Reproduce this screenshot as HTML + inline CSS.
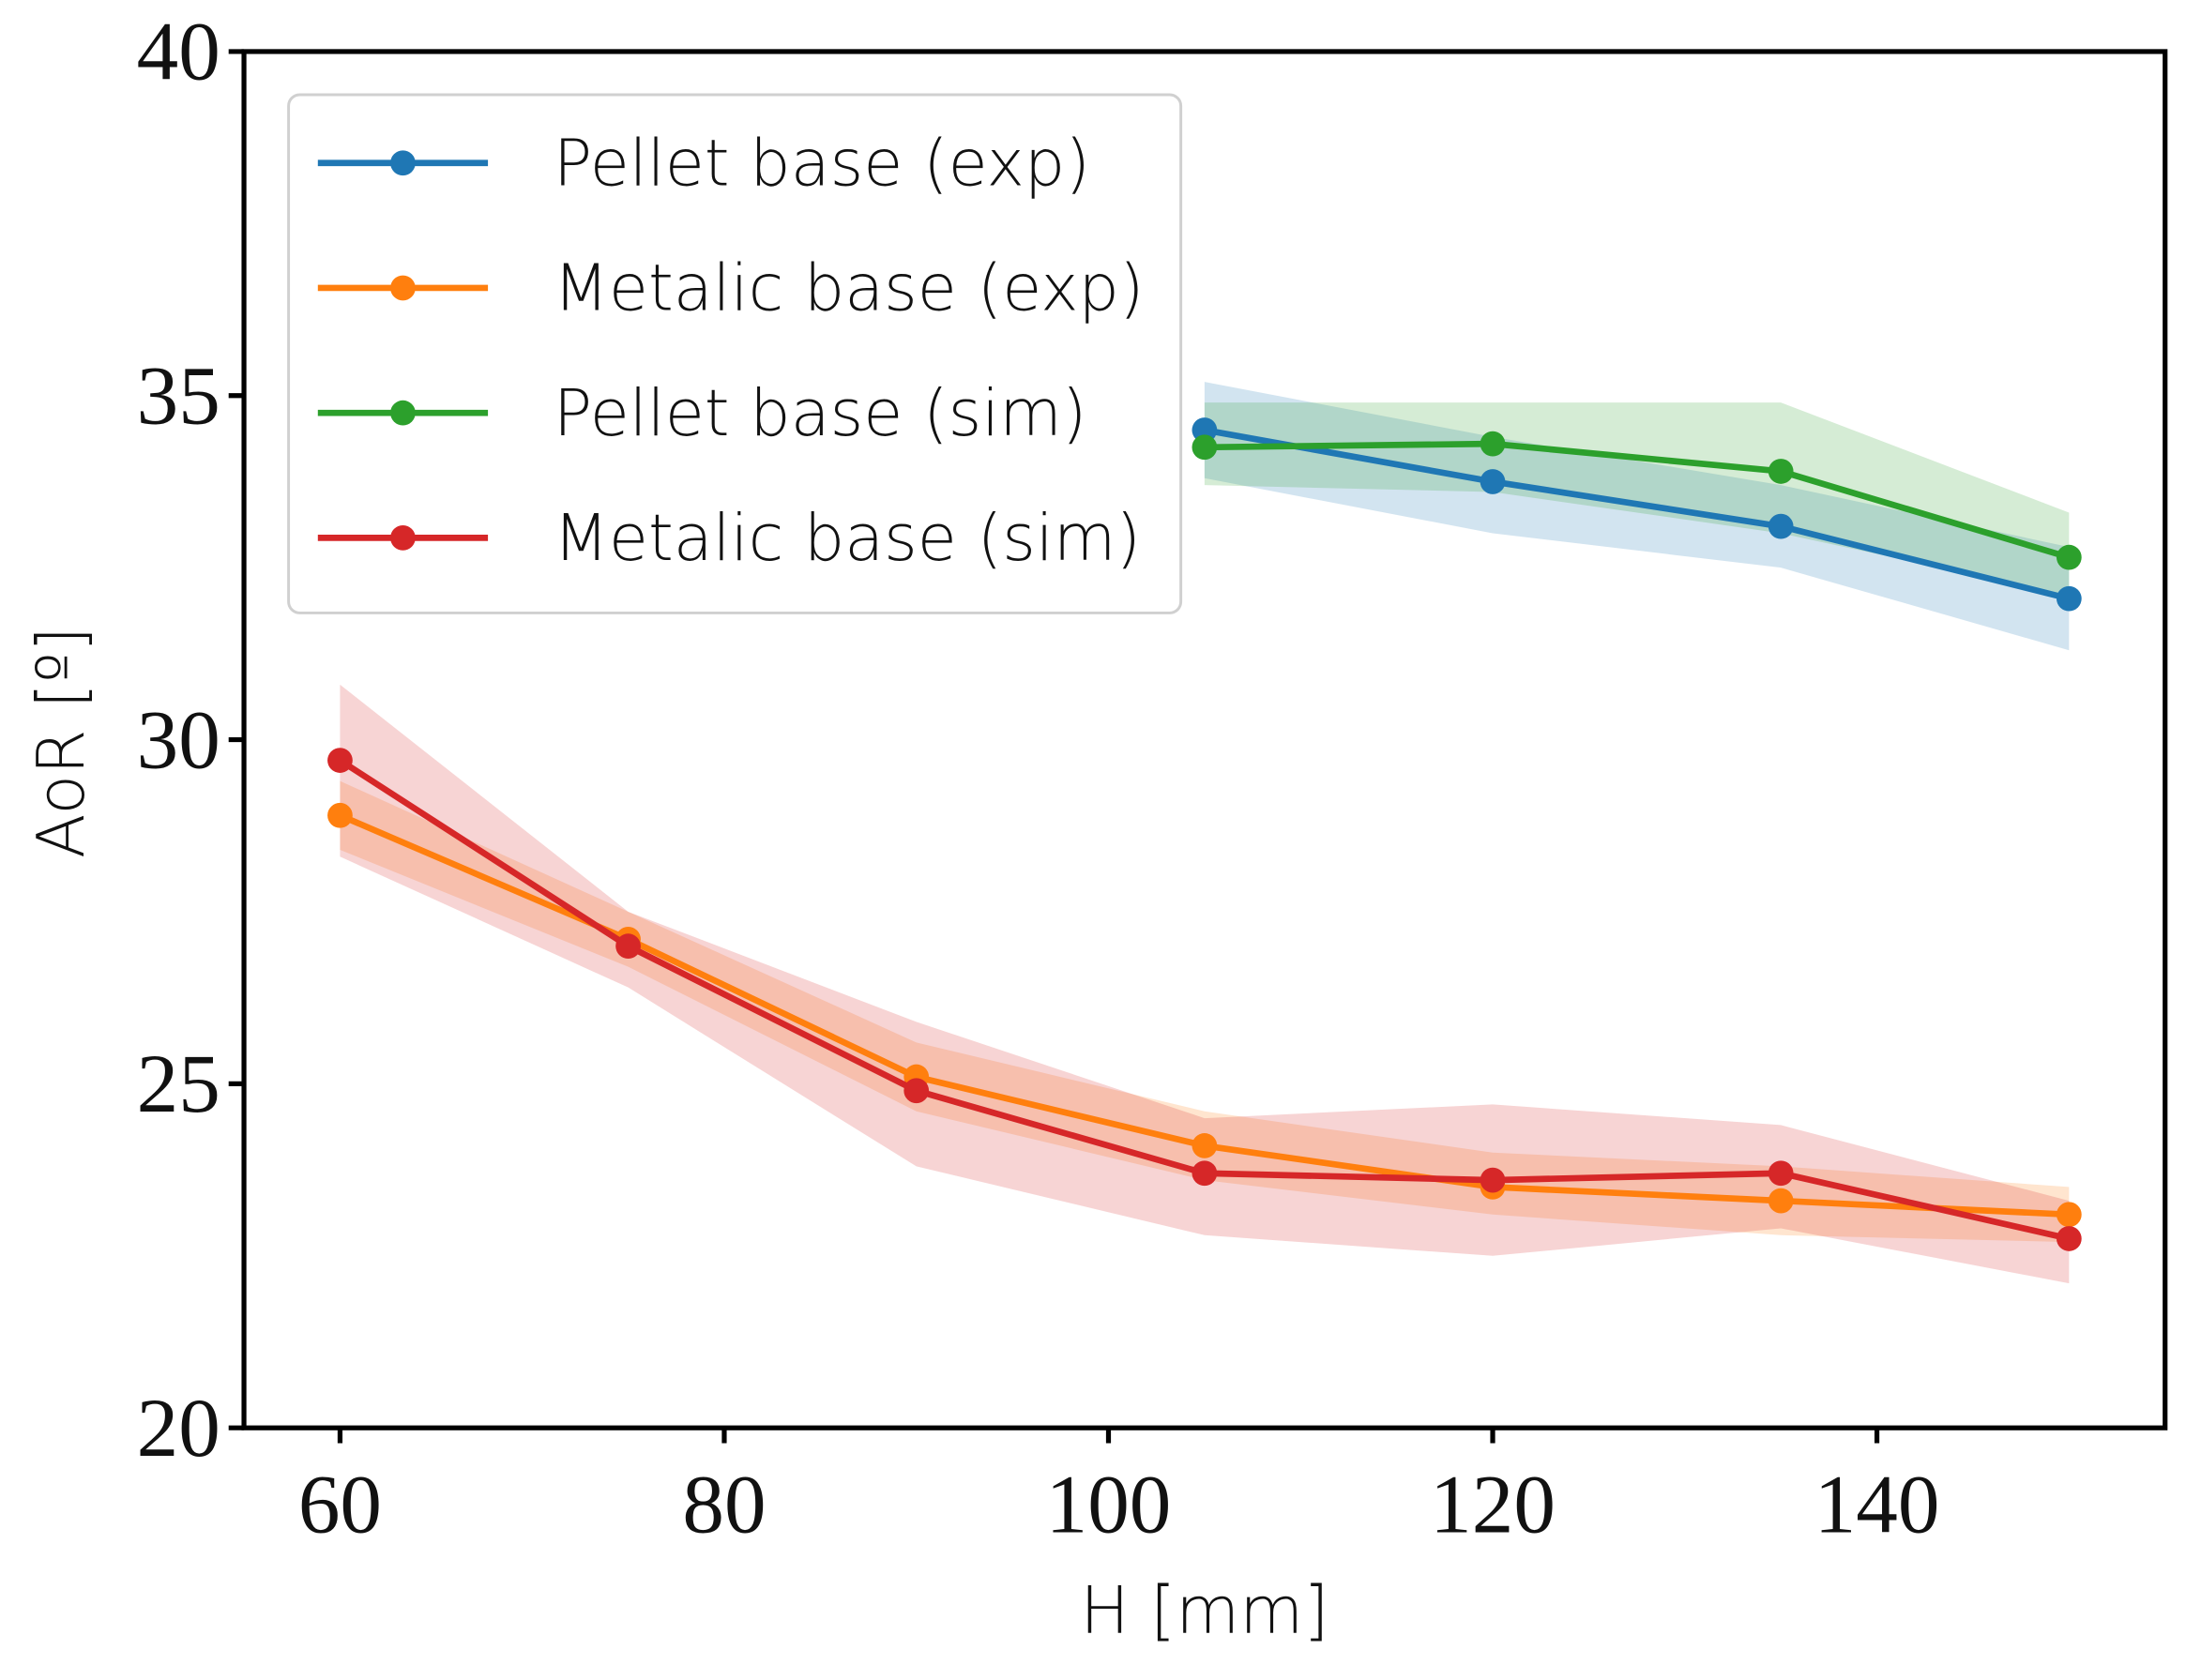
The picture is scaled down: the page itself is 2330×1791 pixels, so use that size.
<!DOCTYPE html>
<html><head><meta charset="utf-8"><style>
html,body{margin:0;padding:0;background:#fff;}
svg{display:block;}
.tick{font-family:"Liberation Serif",serif;font-size:60px;fill:#111;}
.lab{font-family:"DejaVu Sans","Liberation Sans",sans-serif;font-size:47px;fill:#111;font-weight:300;}
.leg{font-family:"DejaVu Sans","Liberation Sans",sans-serif;font-size:46px;fill:#111;font-weight:300;}
</style></head><body>
<svg id="chart" width="2330" height="1791" viewBox="0 0 1568 1206" preserveAspectRatio="none" xmlns="http://www.w3.org/2000/svg">
<rect width="1568" height="1206" fill="#fff"/>
<g id="bands"></g><g id="lines"></g>
<rect x="175" y="37" width="1378" height="988" fill="none" stroke="#000" stroke-width="3.5"/>
<g id="axes"></g>
<text class="lab" x="864" y="1172" text-anchor="middle">H [mm]</text>
<text class="lab" transform="translate(60,533) rotate(-90)" text-anchor="middle">AoR [º]</text>
<g id="legend">
<rect x="207" y="68" width="640" height="372" rx="8" fill="#fff" fill-opacity="0.85" stroke="#d0d0d0" stroke-width="2"/>
</g>
</svg>
<script>
const xs=[60,75,90,105,120,135,150];
const pelletExp=[null,null,null,34.5,33.75,33.1,32.05];
const pelletExpLo=[null,null,null,33.8,33.0,32.5,31.3];
const pelletExpHi=[null,null,null,35.2,34.4,33.7,32.8];
const pelletSim=[null,null,null,34.25,34.3,33.9,32.65];
const pelletSimLo=[null,null,null,33.7,33.6,33.0,32.1];
const pelletSimHi=[null,null,null,34.9,34.9,34.9,33.3];
const metalExp=[28.9,27.1,25.1,24.1,23.5,23.3,23.1];
const metalExpLo=[28.4,26.7,24.6,23.6,23.1,22.8,22.7];
const metalExpHi=[29.4,27.5,25.6,24.6,24.0,23.8,23.5];
const metalSim=[29.7,27.0,24.9,23.7,23.6,23.7,22.75];
const metalSimLo=[28.3,26.4,23.8,22.8,22.5,22.9,22.1];
const metalSimHi=[30.8,27.5,25.9,24.5,24.7,24.4,23.3];
const xTicks=[60,80,100,120,140];
const yTicks=[20,25,30,35,40];
const names=["Pellet base (exp)","Metalic base (exp)","Pellet base (sim)","Metalic base (sim)"];
const colors=["#1f77b4","#ff7f0e","#2ca02c","#d62728"];
const NS="http://www.w3.org/2000/svg";
const X=v=>175+(v-55)/100*1378;
const Y=v=>1025-(v-20)/20*988;
function mk(t,a,p){const e=document.createElementNS(NS,t);for(const k in a)e.setAttribute(k,a[k]);p.appendChild(e);return e;}
const series=[[pelletExp,pelletExpLo,pelletExpHi],[metalExp,metalExpLo,metalExpHi],[pelletSim,pelletSimLo,pelletSimHi],[metalSim,metalSimLo,metalSimHi]];
const bands=document.getElementById('bands'),lines=document.getElementById('lines');
series.forEach((s,i)=>{
 const idx=xs.map((_,j)=>j).filter(j=>s[0][j]!=null);
 const pts=idx.map(j=>X(xs[j])+','+Y(s[2][j])).concat(idx.slice().reverse().map(j=>X(xs[j])+','+Y(s[1][j])));
 const b=mk('polygon',{points:pts.join(' '),fill:colors[i],'fill-opacity':0.2},bands);
 
 
});
series.forEach((s,i)=>{
 const idx=xs.map((_,j)=>j).filter(j=>s[0][j]!=null);
 const l=mk('polyline',{points:idx.map(j=>X(xs[j])+','+Y(s[0][j])).join(' '),fill:'none',stroke:colors[i],'stroke-width':4.5},lines);
 
 
 idx.forEach(j=>{const c=mk('circle',{cx:X(xs[j]),cy:Y(s[0][j]),r:9,fill:colors[i]},lines);
 
 });
});
const ax=document.getElementById('axes');
xTicks.forEach(v=>{mk('line',{x1:X(v),x2:X(v),y1:1025,y2:1036,stroke:'#000','stroke-width':3.5},ax);
 const t=mk('text',{x:X(v),y:1100,'text-anchor':'middle',class:'tick'},ax);t.textContent=v;
 
 });
yTicks.forEach(v=>{mk('line',{x1:164,x2:175,y1:Y(v),y2:Y(v),stroke:'#000','stroke-width':3.5},ax);
 const t=mk('text',{x:158,y:Y(v)+20,'text-anchor':'end',class:'tick'},ax);t.textContent=v;
 
 });
const lg=document.getElementById('legend');
names.forEach((n,i)=>{const y=117+i*89.7;
 mk('line',{x1:228,x2:350,y1:y,y2:y,stroke:colors[i],'stroke-width':4.5},lg);
 mk('circle',{cx:289,cy:y,r:9,fill:colors[i]},lg);
 const t=mk('text',{x:397,y:y+16,class:'leg'},lg);t.textContent=n;
 
 });
</script>
</body></html>
